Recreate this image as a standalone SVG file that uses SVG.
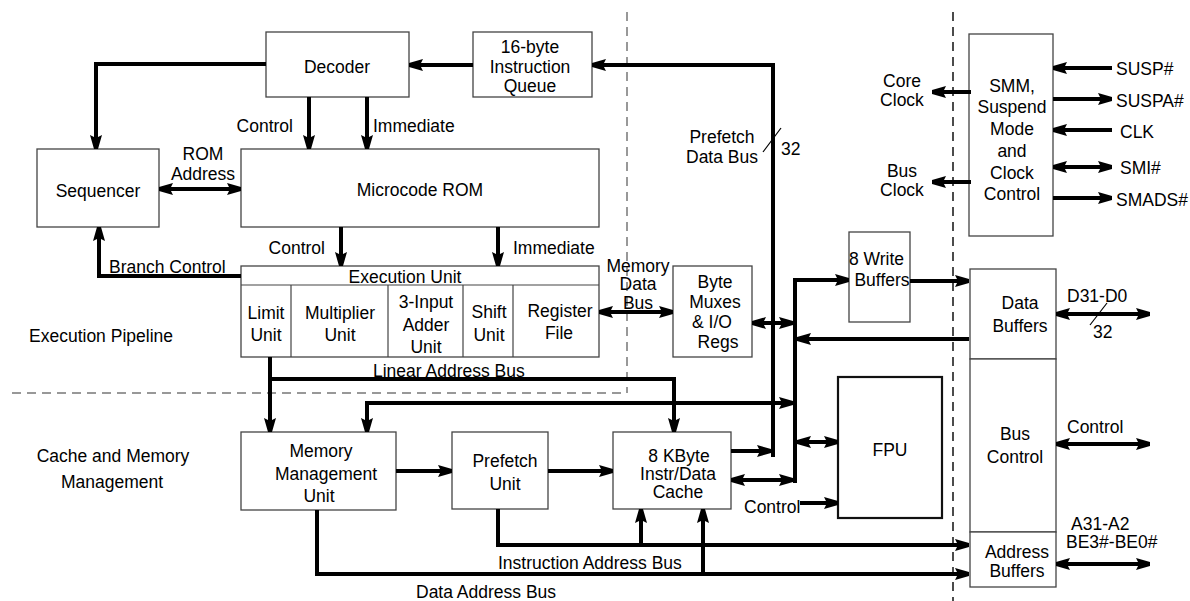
<svg xmlns="http://www.w3.org/2000/svg" width="1190" height="601" viewBox="0 0 1190 601">
<style>
text{font-family:"Liberation Sans",Arial,sans-serif;font-size:17.5px;fill:#000}
.m{text-anchor:middle}
.e{text-anchor:end}
.box{fill:#fff;stroke:#444;stroke-width:1.3}
.fpu{fill:#fff;stroke:#111;stroke-width:2.2}
.w{fill:none;stroke:#000;stroke-width:4;stroke-linejoin:miter}
.a{marker-end:url(#ah)}
.b{marker-start:url(#ah);marker-end:url(#ah)}
.thin{fill:none;stroke:#000;stroke-width:1.2}
.dg{fill:none;stroke:#777;stroke-width:1.5;stroke-dasharray:9 6}
.dk{fill:none;stroke:#111;stroke-width:1.5;stroke-dasharray:9 6}
</style>
<defs>
<marker id="ah" markerUnits="userSpaceOnUse" viewBox="0 0 14 12" refX="14" refY="6" markerWidth="14" markerHeight="12" orient="auto-start-reverse">
<path d="M0,0 L14,4 L14,8 L0,12 L3,6 z" fill="#000"/>
</marker>
</defs>
<rect width="1190" height="601" fill="#fff"/>

<g id="dividers">
<path class="dg" d="M627,12 V393"/>
<path class="dg" d="M12,393 H627"/>
<path class="dk" d="M953,12 V601"/>
</g>

<g id="labels">
<text x="29" y="342">Execution Pipeline</text>
<text class="m" x="113" y="462">Cache and Memory</text>
<text class="m" x="112" y="488">Management</text>
</g>

<g id="decoder"><rect class="box" x="266" y="32" width="143" height="65"/><text class="m" x="337" y="73">Decoder</text></g>
<g id="queue"><rect class="box" x="473" y="32" width="119" height="65"/><text class="m" x="530" y="53">16-byte</text><text class="m" x="530" y="73">Instruction</text><text class="m" x="530" y="92">Queue</text></g>
<g id="sequencer"><rect class="box" x="37" y="149" width="122" height="78"/><text class="m" x="98" y="197">Sequencer</text></g>
<g id="rom"><rect class="box" x="241" y="149" width="358" height="78"/><text class="m" x="420" y="196">Microcode ROM</text></g>
<g id="exec">
<rect class="box" x="241" y="266" width="358" height="91"/>
<path class="thin" style="stroke:#444" d="M241,285 H599 M291,285 V357 M388,285 V357 M463,285 V357 M513,285 V357"/>
<text class="m" x="405" y="283">Execution Unit</text>
<text class="m" x="266" y="319">Limit</text><text class="m" x="266" y="341">Unit</text>
<text class="m" x="340" y="319">Multiplier</text><text class="m" x="340" y="341">Unit</text>
<text class="m" x="426" y="308">3-Input</text><text class="m" x="426" y="331">Adder</text><text class="m" x="426" y="353">Unit</text>
<text class="m" x="489" y="318">Shift</text><text class="m" x="489" y="341">Unit</text>
<text class="m" x="560" y="317">Register</text><text class="m" x="559" y="339">File</text>
</g>
<g id="bytemux"><rect class="box" x="673" y="266" width="79" height="91"/><text class="m" x="715" y="288">Byte</text><text class="m" x="715" y="308">Muxes</text><text class="m" x="712" y="328">&amp; I/O</text><text class="m" x="718" y="348">Regs</text></g>
<g id="mmu"><rect class="box" x="241" y="432" width="155" height="78"/><text class="m" x="321" y="457">Memory</text><text class="m" x="326" y="480">Management</text><text class="m" x="319" y="502">Unit</text></g>
<g id="prefetch"><rect class="box" x="452" y="432" width="96" height="77"/><text class="m" x="505" y="467">Prefetch</text><text class="m" x="505" y="490">Unit</text></g>
<g id="cache"><rect class="box" x="613" y="432" width="118" height="77"/><text class="m" x="679" y="462">8 KByte</text><text class="m" x="678" y="480">Instr/Data</text><text class="m" x="678" y="498">Cache</text></g>
<g id="fpu"><rect class="fpu" x="838" y="377" width="104" height="141"/><text class="m" x="890" y="456">FPU</text></g>
<g id="writebuf"><rect class="box" x="849" y="232" width="61" height="90"/><text x="849" y="265">8 Write</text><text class="m" x="882" y="286">Buffers</text></g>
<g id="smm"><rect class="box" x="969" y="34" width="84" height="202"/>
<text class="m" x="1012" y="92">SMM,</text><text class="m" x="1012" y="113">Suspend</text><text class="m" x="1012" y="135">Mode</text><text class="m" x="1012" y="157">and</text><text class="m" x="1012" y="179">Clock</text><text class="m" x="1012" y="200">Control</text></g>
<g id="databuf"><rect class="box" x="970" y="269" width="86" height="90"/><text class="m" x="1020" y="309">Data</text><text class="m" x="1020" y="332">Buffers</text></g>
<g id="busctl"><rect class="box" x="970" y="359" width="86" height="173"/><text class="m" x="1015" y="440">Bus</text><text class="m" x="1015" y="463">Control</text></g>
<g id="addrbuf"><rect class="box" x="970" y="532" width="86" height="55"/><text class="m" x="1017" y="558">Address</text><text class="m" x="1017" y="577">Buffers</text></g>

<g id="connectors">
<path class="w a" d="M473,65 H409"/>
<path class="w a" d="M773,457 V65 H592"/>
<path class="w a" d="M266,64 H96 V149"/>
<path class="w a" d="M309,97 V149"/>
<path class="w a" d="M367,97 V149"/>
<path class="w b" d="M159,189 H241"/>
<path class="w a" d="M341,227 V266"/>
<path class="w a" d="M498,227 V266"/>
<path class="w a" d="M241,276 H99 V227"/>
<path class="w b" d="M599,312 H673"/>
<path class="w b" d="M752,323 H793"/>
<path class="w a" d="M795,483 V280 H849"/>
<path class="w a" d="M910,281 H969"/>
<path class="w a" d="M969,339 H797"/>
<path class="w a" d="M270,357 V432"/>
<path class="w a" d="M270,379 H674 V432"/>
<path class="w b" d="M367,432 V403 H793"/>
<path class="w a" d="M396,471 H452"/>
<path class="w a" d="M548,471 H613"/>
<path class="w a" d="M731,451 H771"/>
<path class="w b" d="M731,480 H793"/>
<path class="w b" d="M797,442 H838"/>
<path class="w a" d="M800,503 H838"/>
<path class="w a" d="M498,509 V545 H969"/>
<path class="w a" d="M641,545 V509"/>
<path class="w a" d="M317,510 V574 H969"/>
<path class="w a" d="M703,574 V509"/>
<path class="w a" d="M1112,68 H1053"/>
<path class="w a" d="M1053,99 H1112"/>
<path class="w a" d="M1112,130 H1053"/>
<path class="w b" d="M1053,167 H1112"/>
<path class="w a" d="M1053,198 H1112"/>
<path class="w a" d="M971,92 H932"/>
<path class="w a" d="M971,182 H932"/>
<path class="w b" d="M1056,314 H1150"/>
<path class="w b" d="M1056,444 H1150"/>
<path class="w b" d="M1056,564 H1150"/>
<path class="thin" d="M763,152 L781,128"/>
<path class="thin" d="M1090,325 L1107,303"/>
</g>

<g id="connector-labels">
<text class="e" x="293" y="132">Control</text>
<text x="373" y="132">Immediate</text>
<text class="m" x="203" y="160">ROM</text>
<text class="m" x="203" y="180">Address</text>
<text class="e" x="325" y="254">Control</text>
<text x="513" y="254">Immediate</text>
<text x="109" y="273">Branch Control</text>
<text class="m" x="638" y="272">Memory</text>
<text class="m" x="638" y="290">Data</text>
<text class="m" x="638" y="309">Bus</text>
<text class="m" x="722" y="143">Prefetch</text>
<text class="m" x="722" y="163">Data Bus</text>
<text x="781" y="155">32</text>
<text x="373" y="377">Linear Address Bus</text>
<text x="744" y="513">Control</text>
<text x="498" y="569">Instruction Address Bus</text>
<text x="416" y="598">Data Address Bus</text>
<text class="m" x="902" y="87">Core</text>
<text class="m" x="902" y="106">Clock</text>
<text class="m" x="902" y="177">Bus</text>
<text class="m" x="902" y="196">Clock</text>
<text x="1116" y="75">SUSP#</text>
<text x="1116" y="107">SUSPA#</text>
<text x="1120" y="138">CLK</text>
<text x="1120" y="174">SMI#</text>
<text x="1116" y="206">SMADS#</text>
<text x="1067" y="302">D31-D0</text>
<text x="1093" y="338">32</text>
<text x="1067" y="433">Control</text>
<text x="1071" y="530">A31-A2</text>
<text x="1066" y="548">BE3#-BE0#</text>
</g>
</svg>
